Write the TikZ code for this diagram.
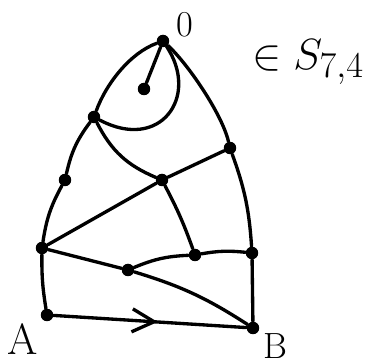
\documentclass[tikz,border=0pt]{standalone}
\usetikzlibrary{arrows.meta,decorations.markings}
\tikzset{
  mapdot/.style={circle, fill, inner sep=0pt, minimum size=2.5mm},
  mapedge/.style={line width=1.9pt, line cap=round},
  maplabel/.style={font=\Huge, inner sep=0pt},
  midarrow/.style={postaction={decorate}, decoration={markings, mark=at position 0.54 with {\arrow{Straight Barb[length=4.4mm, width=4.6mm, line width=1.9pt]}}}}
}
\begin{document}
\begin{tikzpicture}[x=0.02cm, y=0.02cm]
\useasboundingbox (0,0) rectangle (366,362);
% vertices
\node[mapdot] (o) at (163,321) {};
\node[mapdot] (p) at (144,273) {};
\node[mapdot] (v1) at (94,245) {};
\node[mapdot] (v2) at (65,182) {};
\node[mapdot] (v3) at (42,114) {};
\node[mapdot] (a) at (47,47) {};
\node[mapdot] (b) at (253,34) {};
\node[mapdot] (r1) at (230,214) {};
\node[mapdot] (r2) at (252,109) {};
\node[mapdot] (c) at (162,182) {};
\node[mapdot] (m2) at (195,107) {};
\node[mapdot] (m1) at (128,92) {};
% labels
\node[maplabel, font=\huge] (lo) at (185,337) {0};
\node[maplabel] (la) at (23,23) {A};
\node[maplabel, font=\huge] (lb) at (275,16) {B};
\node[maplabel] (ls) at (308,300) {$\in S_{7,4}$};
% edges
\draw[mapedge] (o) .. controls (130,309) and (106,278) .. (v1);
\draw[mapedge] (o) .. controls (200,265) and (160,210) .. (v1);
\draw[mapedge] (o) -- (p);
\draw[mapedge] (o) .. controls (188,298) and (222,248) .. (r1);
\draw[mapedge] (v1) to[bend right=12] (v2);
\draw[mapedge] (v2) to[bend right=10] (v3);
\draw[mapedge] (v3) to[bend right=5] (a);
\draw[mapedge] (r1) to[bend left=8] (r2);
\draw[mapedge] (r2) -- (b);
\draw[mapedge] (v1) to[bend right=20] (c);
\draw[mapedge] (c) -- (r1);
\draw[mapedge] (c) -- (v3);
\draw[mapedge] (c) to[bend left=4] (m2);
\draw[mapedge] (v3) -- (m1);
\draw[mapedge] (m1) to[bend left=8] (b);
\draw[mapedge] (m1) to[bend left=10] (m2);
\draw[mapedge] (m2) to[bend left=8] (r2);
\draw[mapedge, midarrow] (a) -- (b);
\end{tikzpicture}
\end{document}
